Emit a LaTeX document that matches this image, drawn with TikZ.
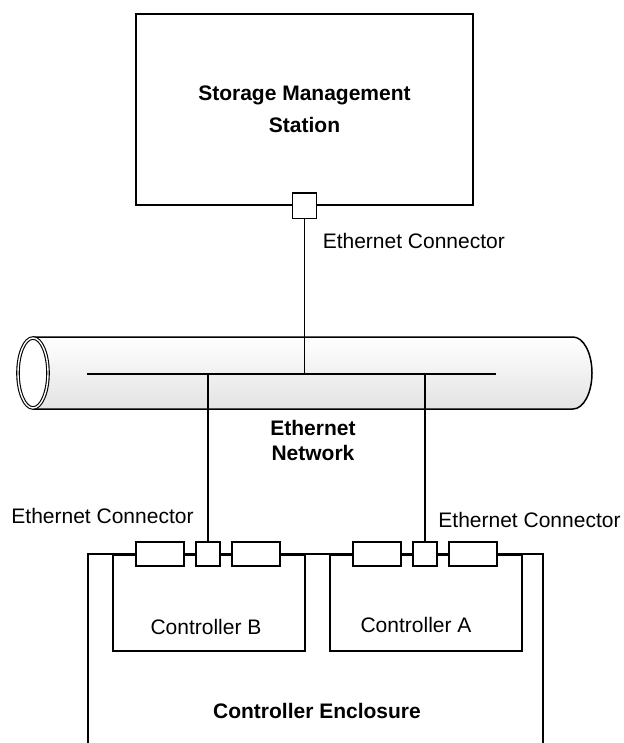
\documentclass[tikz,border=0pt]{standalone}
\usepackage{fontspec}
\setmainfont{Liberation Sans}
\usetikzlibrary{positioning}

\begin{document}
\begin{tikzpicture}[
  x=1pt, y=-1pt, line width=1.5pt,
  node distance=10.5pt,
  txt/.style={inner sep=0pt, align=center, font=\fontsize{21}{25}\selectfont},
  boldtxt/.style={txt, font=\bfseries\fontsize{21}{25}\selectfont},
  station/.style={draw, minimum width=337pt, minimum height=191pt, align=center,
                  font=\bfseries\fontsize{21}{32}\selectfont},
  slot/.style={draw, fill=white, minimum width=48pt, minimum height=24pt, inner sep=0pt},
  port/.style={slot, minimum width=24pt},
  unit/.style={draw, anchor=north west, minimum width=192pt, minimum height=96pt, inner sep=0pt}
]
\useasboundingbox (0,0) rectangle (623,743);

\node[station] (sms) at (304.5,109.5) {Storage Management\\Station};
\node[port, minimum height=25pt] (smsport) at (sms.south) {};
\node[txt, anchor=west] (smslbl) at (322,241) {Ethernet Connector};

% network cable
\shade[top color=white, bottom color=gray!22]
  (33,337) -- (573,337) arc[start angle=-90, end angle=90, x radius=19, y radius=36]
  -- (33,409) -- cycle;
\draw (33,337) -- (573,337) arc[start angle=-90, end angle=90, x radius=19, y radius=36]
  -- (33,409);
\draw[line width=1.1pt, double, double distance=1.4pt, fill=white]
  (33,373) ellipse [x radius=15, y radius=35];

\coordinate (busL) at (87,374);
\coordinate (busR) at (496,374);
\coordinate (tapS) at (smsport |- busL);
\coordinate (tapB) at (208,374);
\coordinate (tapA) at (425,374);
\draw (busL) -- (busR);
\draw (smsport) -- (tapS);
\node[boldtxt] (net) at (313,440) {Ethernet\\Network};

% enclosure
\coordinate (encSW) at (88,743);
\coordinate (encNW) at (88,554);
\coordinate (encNE) at (543,554);
\coordinate (encSE) at (543,743);
\draw (encSW) -- (encNW) -- (encNE) -- (encSE);

\node[unit] (ctrlB) at (112,554) {};
\node[unit] (ctrlA) at (329,554) {};
\node[txt] (ctrlBtxt) at (206,627) {Controller B};
\node[txt] (ctrlAtxt) at (416,625) {Controller A};

\node[port] (portB) at (208,554) {};
\node[slot, left=of portB] (slotB1) {};
\node[slot, right=of portB] (slotB2) {};
\node[port] (portA) at (425,554) {};
\node[slot, left=of portA] (slotA1) {};
\node[slot, right=of portA] (slotA2) {};

\draw (tapB) -- (portB);
\draw (tapA) -- (portA);
\node[txt] (lblB) at (102.5,516) {Ethernet Connector};
\node[txt] (lblA) at (529.5,520) {Ethernet Connector};

\node[boldtxt] (enc) at (317,711) {Controller Enclosure};
\end{tikzpicture}
\end{document}
